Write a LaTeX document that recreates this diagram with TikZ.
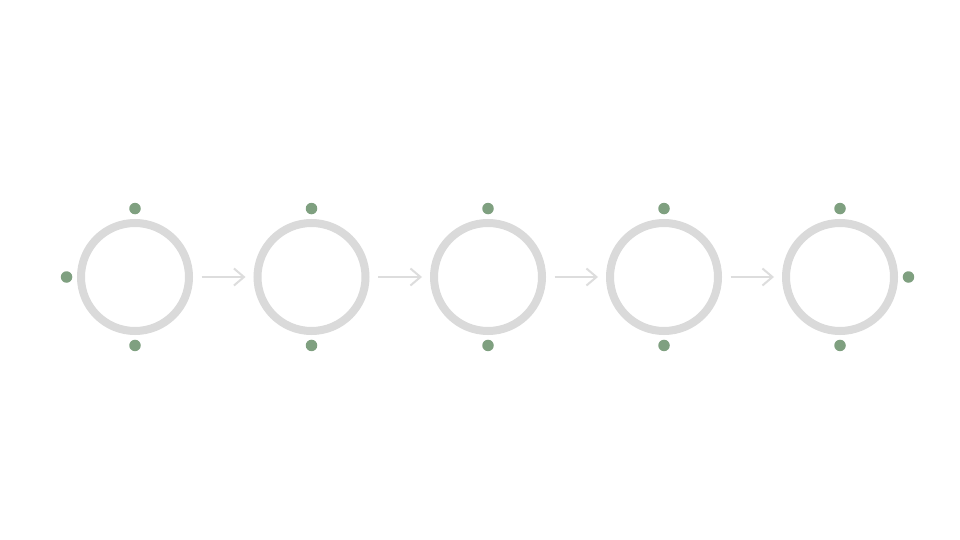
\documentclass[tikz,border=0pt]{standalone}
\usetikzlibrary{positioning,arrows.meta}
\definecolor{ringgray}{HTML}{DADADA}
\definecolor{arrowgray}{HTML}{DDDDDD}
\definecolor{dotgreen}{HTML}{7FA080}
\begin{document}
\begin{tikzpicture}
  [x=1pt,y=-1pt,node distance=4.5pt,
   ring/.style={circle,draw=ringgray,line width=8pt,minimum size=108pt,inner sep=0pt},
   dot/.style={circle,fill=dotgreen,minimum size=11.5pt,inner sep=0pt},
   flow/.style={arrowgray,line width=2pt,-{Straight Barb[length=10pt,width=17pt]},shorten <=8.5pt,shorten >=8pt}]
  \fill[white] (0,0) rectangle (960,540);
  \useasboundingbox (0,0) rectangle (960,540);
  \foreach \i/\x in {1/135,2/311.5,3/488,4/664,5/840}
  {
    \node[ring] (c\i) at (\x,277) {};
    \node[dot,above=of c\i] (t\i) {};
    \node[dot,below=of c\i] (b\i) {};
  }
  \node[dot,left=of c1] (l1) {};
  \node[dot,right=of c5] (r5) {};
  \foreach \from/\to in {c1/c2,c2/c3,c3/c4,c4/c5}
    \draw[flow] (\from.east) -- (\to.west);
\end{tikzpicture}
\end{document}
